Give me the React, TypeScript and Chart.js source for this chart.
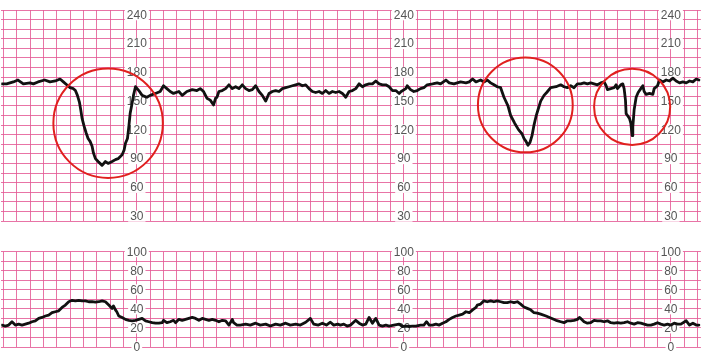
import React, { useEffect, useRef } from "react";
import { Chart, registerables } from "chart.js";

Chart.register(...registerables);

// Fetal heart rate trace (time in seconds, bpm)
const fhrTime = [
  -2, 5, 15, 22, 30, 40, 45, 52, 62, 70, 78, 85, 90, 95, 100, 105, 108, 111, 114, 116,
  118, 121, 124, 127, 130, 133, 135, 138, 142, 148, 153, 157, 163, 168, 172, 178, 181, 183, 186, 188,
  190, 193, 195, 198, 203, 208, 215, 220, 228, 235, 240, 245, 250, 255, 263, 268, 275, 283, 290, 295,
  300, 305, 310, 315, 318, 320, 323, 328, 333, 338, 343, 348, 353, 358, 363, 368, 373, 378, 383, 388,
  393, 398, 403, 408, 413, 418, 423, 428, 433, 438, 443, 448, 453, 458, 463, 468, 473, 478, 483, 488,
  493, 498, 503, 508, 513, 518, 523, 528, 533, 538, 543, 548, 553, 558, 563, 568, 573, 578, 583, 588,
  593, 596, 603, 605, 610, 615, 620, 625, 630, 635, 643, 650, 655, 663, 668, 675, 680, 685, 693, 698,
  703, 708, 715, 720, 725, 730, 735, 740, 745, 750, 756, 760, 766, 772, 777, 780, 783, 786, 789, 792,
  795, 798, 801, 805, 810, 814, 820, 828, 835, 840, 845, 850, 855, 860, 865, 870, 875, 880, 885, 890,
  895, 900, 903, 905, 910, 915, 918, 920, 925, 928, 930, 932, 933, 935, 938, 940, 942, 943, 945, 948,
  951, 955, 958, 960, 963, 968, 973, 975, 980, 983, 988, 993, 998, 1003, 1008, 1013, 1018, 1023, 1028, 1033,
  1038, 1042,
];
const fhrBpm = [
  168, 168, 170, 172, 168, 169, 168, 170, 172, 170, 171, 173, 170, 167, 164, 163, 161, 156, 149, 141,
  132, 124, 117, 111, 108, 103, 96, 90, 87, 83, 87, 85, 87, 89, 90, 94, 99, 106, 111, 123,
  137, 148, 156, 165, 161, 156, 154, 156, 158, 160, 166, 163, 160, 158, 160, 156, 160, 162, 161, 163,
  160, 153, 151, 146, 153, 154, 160, 161, 163, 167, 163, 165, 163, 167, 163, 161, 162, 166, 160, 156,
  150, 158, 160, 161, 160, 163, 164, 165, 166, 167, 168, 166, 167, 163, 160, 159, 160, 158, 161, 158,
  160, 159, 160, 158, 154, 160, 161, 163, 168, 165, 167, 168, 168, 171, 168, 167, 167, 165, 161, 161,
  158, 160, 163, 166, 162, 160, 161, 163, 164, 167, 168, 169, 168, 172, 169, 168, 169, 170, 169, 170,
  173, 170, 172, 170, 172, 169, 167, 165, 164, 154, 145, 135, 127, 120, 116, 111, 108, 104, 107, 114,
  125, 134, 141, 150, 156, 159, 164, 165, 167, 165, 164, 166, 164, 168, 168, 169, 168, 169, 168, 167,
  169, 170, 166, 162, 163, 164, 167, 163, 167, 168, 163, 151, 137, 135, 132, 127, 114, 123, 141, 154,
  159, 163, 166, 160, 157, 158, 157, 163, 166, 172, 170, 172, 171, 174, 171, 169, 170, 169, 171, 170,
  173, 172,
];

// Uterine contraction trace (time in seconds, value)
const ucTime = [
  -2, 3, 8, 13, 18, 23, 28, 33, 38, 43, 48, 53, 58, 63, 68, 73, 78, 83, 88, 93,
  98, 103, 108, 113, 118, 123, 128, 133, 138, 143, 148, 153, 158, 163, 165, 168, 170, 173, 178, 183,
  188, 193, 198, 203, 208, 213, 218, 223, 228, 233, 238, 240, 245, 250, 255, 258, 263, 268, 273, 278,
  283, 288, 293, 298, 303, 308, 313, 318, 323, 328, 333, 338, 343, 345, 350, 355, 363, 370, 378, 385,
  393, 400, 408, 415, 423, 430, 438, 445, 453, 460, 465, 472, 478, 484, 490, 495, 501, 505, 510, 515,
  520, 528, 533, 538, 543, 548, 553, 558, 563, 568, 573, 578, 585, 593, 598, 603, 608, 613, 618, 625,
  630, 634, 638, 643, 648, 653, 658, 663, 668, 673, 678, 683, 688, 693, 698, 703, 708, 710, 715, 720,
  725, 730, 735, 740, 745, 750, 755, 760, 765, 770, 775, 780, 785, 790, 795, 800, 805, 813, 820, 828,
  835, 840, 845, 850, 855, 860, 863, 865, 870, 875, 880, 885, 890, 895, 900, 905, 910, 915, 920, 925,
  930, 935, 940, 945, 950, 955, 960, 965, 970, 975, 980, 985, 990, 995, 1000, 1005, 1010, 1015, 1023, 1028,
  1033, 1038, 1042,
];
const ucValue = [
  23, 22, 23, 26.5, 23, 24, 23, 24, 25, 26.5, 27.5, 30, 31, 32.5, 33.5, 36, 37, 38, 41.5, 44,
  47.5, 49, 48.5, 49, 48.5, 48.5, 47.5, 47.5, 47, 47.5, 48.5, 47.5, 44, 40.5, 43, 39, 37, 32.5, 31, 29,
  28, 27.5, 28, 29, 30, 27.5, 26.5, 25.5, 25, 25, 25.5, 28, 25.5, 26.5, 28, 25.5, 29, 28, 29, 30,
  31, 30, 28, 30, 29, 28, 29, 28, 26.5, 28, 27.5, 23, 29, 25.5, 23, 23, 24, 23, 25, 23,
  24, 22, 24, 23, 25, 23, 24, 23, 26, 30, 24, 23, 25, 23, 26, 23, 24, 23, 24, 22,
  23, 28, 25, 23, 24, 31, 25, 30, 23, 22, 23, 22, 23, 24, 21.5, 22, 21.5, 22, 22, 23,
  23, 26.5, 23, 23, 24, 23, 25, 26.5, 29, 31, 32.5, 33.5, 34.5, 37, 36, 39, 41.5, 44, 45, 48.5,
  47.5, 48.5, 47.5, 48.5, 47.5, 46.5, 46.5, 47.5, 46.5, 47.5, 45, 42, 40.5, 39, 36, 35.5, 34.5, 32.5, 30.5, 28,
  26.5, 25.5, 27.5, 27.5, 28, 29, 31, 30, 26.5, 25, 25.5, 28, 27.5, 27.5, 26.5, 27.5, 25.5, 25, 25.5, 25,
  25.5, 26.5, 25, 24, 25.5, 25, 24, 23, 23, 24, 25.5, 24, 23, 24, 23, 25, 24, 24, 27.5, 23,
  25, 23, 23,
];

// Axis labels printed on the paper
const fhrTickLabels = [30, 60, 90, 120, 150, 180, 210, 240];
const ucTickLabels = [0, 20, 40, 60, 80, 100];
const labelColumns = [200, 600, 1000];

// Highlighted decelerations (centre time, centre bpm, radius in seconds)
const circleTime = [157, 782, 942];
const circleBpm = [127, 146, 144];
const circleRadius = [82, 71, 57];

const X_MIN = -3;
const X_MAX = 1045;
const GRID = "rgba(228, 92, 150, 0.85)";

function range(a: number, b: number, step: number) {
  const out: number[] = [];
  for (let v = a; v <= b + 1e-9; v += step) out.push(v);
  return out;
}

const labelPlugin = (labels: number[]) => ({
  id: "paperLabels",
  beforeDatasetsDraw(chart: any) {
    const { ctx, scales } = chart;
    const xs = scales.x;
    const ys = scales.y;
    ctx.save();
    ctx.font = '12px "Liberation Sans", Arial, sans-serif';
    ctx.textAlign = "center";
    ctx.textBaseline = "middle";
    for (const col of labelColumns) {
      const px = xs.getPixelForValue(col);
      for (const v of labels) {
        const py = ys.getPixelForValue(v);
        const text = String(v);
        const w = ctx.measureText(text).width;
        ctx.fillStyle = "#ffffff";
        ctx.fillRect(px - w / 2 - 2, py - 5.5, w + 4, 11);
        ctx.fillStyle = "#555555";
        ctx.fillText(text, px, py + 0.5);
      }
    }
    ctx.restore();
  },
});

const circlePlugin = {
  id: "decelCircles",
  afterDatasetsDraw(chart: any) {
    const { ctx, scales } = chart;
    const xs = scales.x;
    const ys = scales.y;
    ctx.save();
    ctx.strokeStyle = "#e0201e";
    ctx.lineWidth = 2;
    circleTime.forEach((t, i) => {
      const cx = xs.getPixelForValue(t);
      const cy = ys.getPixelForValue(circleBpm[i]);
      const r = Math.abs(xs.getPixelForValue(t + circleRadius[i]) - cx);
      ctx.beginPath();
      ctx.arc(cx, cy, r, 0, Math.PI * 2);
      ctx.stroke();
    });
    ctx.restore();
  },
};

function buildConfig(
  time: number[],
  values: number[],
  yMin: number,
  yMax: number,
  yGrid: number[],
  padding: any,
  plugins: any[]
): any {
  const xGrid = range(0, 1040, 20);
  return {
    type: "line",
    data: {
      datasets: [
        {
          data: time.map((t, i) => ({ x: t, y: values[i] })),
          borderColor: "#111111",
          borderWidth: 2.8,
          pointRadius: 0,
          tension: 0,
          fill: false,
          borderJoinStyle: "round",
          borderCapStyle: "round",
        },
      ],
    },
    options: {
      responsive: false,
      animation: false,
      events: [],
      layout: { padding },
      plugins: { legend: { display: false }, tooltip: { enabled: false } },
      scales: {
        x: {
          type: "linear",
          min: X_MIN,
          max: X_MAX,
          afterBuildTicks: (a: any) => {
            a.ticks = xGrid.map((v) => ({ value: v }));
          },
          ticks: { display: false },
          grid: { color: GRID, lineWidth: 1, drawTicks: false },
          border: { display: false },
        },
        y: {
          type: "linear",
          min: yMin,
          max: yMax,
          afterBuildTicks: (a: any) => {
            a.ticks = yGrid.map((v) => ({ value: v }));
          },
          ticks: { display: false },
          grid: { color: GRID, lineWidth: 1, drawTicks: false },
          border: { display: false },
        },
      },
    },
    plugins,
  };
}

export default function App() {
  const topRef = useRef<HTMLCanvasElement | null>(null);
  const botRef = useRef<HTMLCanvasElement | null>(null);

  useEffect(() => {
    const top = new Chart(
      topRef.current as HTMLCanvasElement,
      buildConfig(
        fhrTime,
        fhrBpm,
        25,
        245,
        range(25, 245, 10),
        { left: 1.3, right: 7.1, top: 10, bottom: 10 },
        [labelPlugin(fhrTickLabels), circlePlugin]
      )
    );
    const bot = new Chart(
      botRef.current as HTMLCanvasElement,
      buildConfig(
        ucTime,
        ucValue,
        0,
        100,
        range(0, 100, 10),
        { left: 1.3, right: 7.1, top: 11.7, bottom: 10 },
        [labelPlugin(ucTickLabels)]
      )
    );
    return () => {
      top.destroy();
      bot.destroy();
    };
  }, []);

  return (
    <div
      style={{
        position: "fixed",
        left: 0,
        top: 0,
        width: 708,
        height: 357,
        background: "#ffffff",
      }}
    >
      <canvas
        ref={topRef}
        width={708}
        height={231}
        style={{ position: "absolute", left: 0, top: 0, width: 708, height: 231 }}
      />
      <canvas
        ref={botRef}
        width={708}
        height={117}
        style={{ position: "absolute", left: 0, top: 240, width: 708, height: 117 }}
      />
    </div>
  );
}
